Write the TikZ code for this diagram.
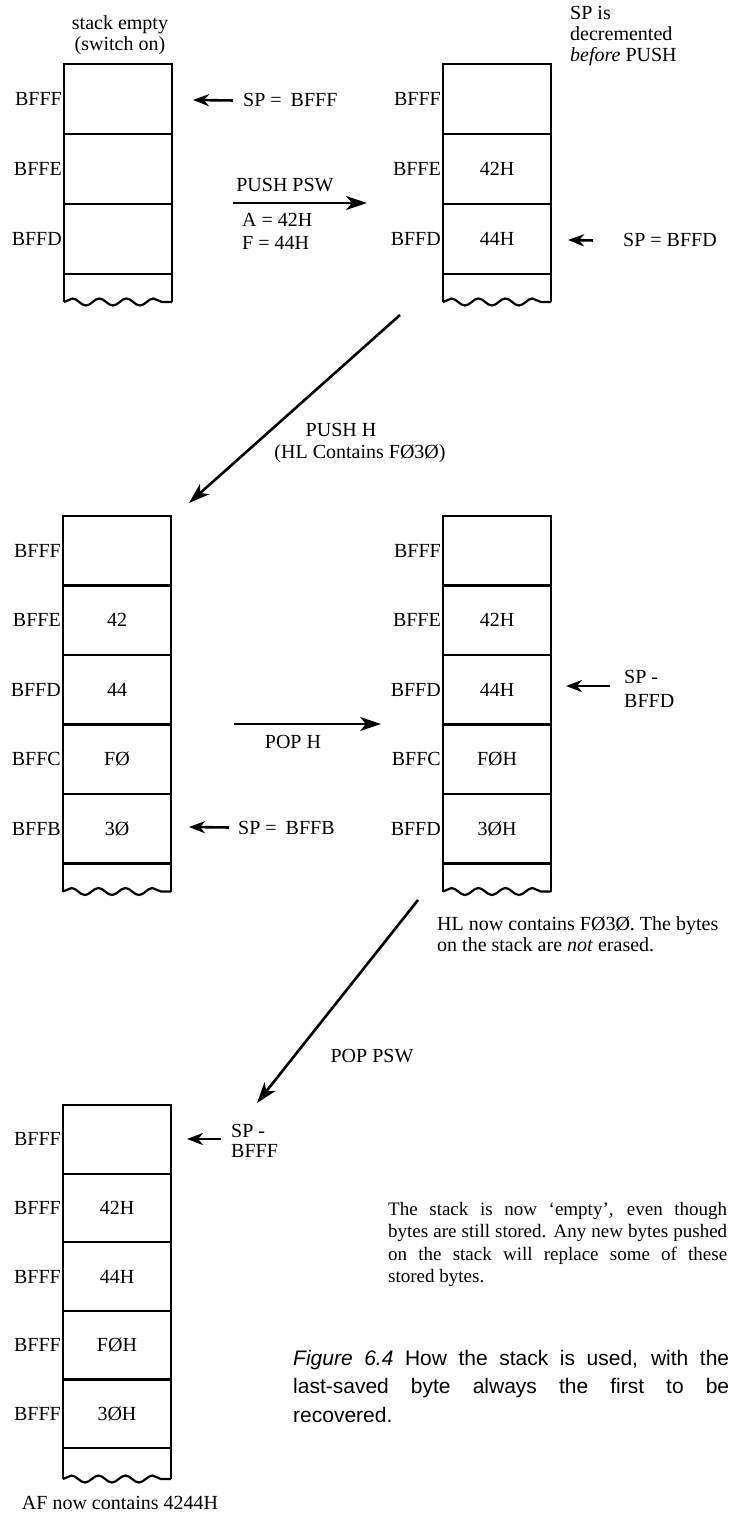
\documentclass[tikz,border=0pt]{standalone}
\usepackage{fontspec}
\setmainfont{Liberation Serif}
\setsansfont{Liberation Sans}
\usetikzlibrary{arrows.meta,decorations.pathmorphing}
\newcommand\lf{\fontsize{20}{22}\selectfont}
\newcommand\buildstack[5]{%
  \foreach [count=\i] \lab/\con in {#5} {
    \node[cell, minimum height=#4pt] (#1\i) at (#2, {#3+#4*(\i-0.5)}) {\con};
    \node[addr] (#1L\i) at (#1\i.west) {\lab};
  }%
}
\newcommand\stacktail[3]{%
  \draw[boxline] (#1#2.south west) -- ++(0,#3) coordinate (#1tl);
  \draw[boxline] (#1#2.south east) -- ++(0,#3) coordinate (#1tr);
  \draw[boxline, decorate, decoration={snake, amplitude=3.5pt, segment length=27pt}] (#1tl) -- (#1tr);
}
\begin{document}
\begin{tikzpicture}[x=1pt,y=-1pt,
  cell/.style={draw, line width=2.2pt, minimum width=108pt, inner sep=0pt, outer sep=0pt, font=\lf},
  addr/.style={anchor=east, inner sep=2pt, font=\lf},
  lab/.style={inner sep=0pt, font=\lf},
  boxline/.style={line width=2.2pt},
  bigarrow/.style={line width=2.6pt, -{Stealth[length=21pt,width=14pt,inset=6pt]}},
  sparrow/.style={line width=2.6pt, -{Stealth[length=16pt,width=12pt,inset=5pt]}}]
\useasboundingbox (0,0) rectangle (733,1514);
\clip (0,0) rectangle (733,1514);

% stacks
\buildstack{A}{118}{64}{70}{BFFF/{},BFFE/{},BFFD/{}}
\stacktail{A}{3}{28}
\buildstack{B}{497}{64}{70}{BFFF/{},BFFE/42H,BFFD/44H}
\stacktail{B}{3}{28}
\buildstack{C}{117}{516}{69.5}{BFFF/{},BFFE/42,BFFD/44,BFFC/FØ,BFFB/3Ø}
\stacktail{C}{5}{28}
\buildstack{D}{497}{516}{69.5}{BFFF/{},BFFE/42H,BFFD/44H,BFFC/FØH,BFFD/3ØH}
\stacktail{D}{5}{28}
\buildstack{E}{117}{1105}{68.6}{BFFF/{},BFFF/42H,BFFF/44H,BFFF/FØH,BFFF/3ØH}
\stacktail{E}{5}{31}

% top texts
\node[lab, anchor=base] (se1) at (120,30) {stack empty};
\node[lab, anchor=base] (se2) at (120,51) {(switch on)};
\node[lab, anchor=base west] (spis1) at (570,20) {SP is};
\node[lab, anchor=base west] (spis2) at (570,41) {decremented};
\node[lab, anchor=base west] (spis3) at (570,62) {\textit{before} PUSH};

% SP pointer A
\node[lab, anchor=base west] (spA) at (243,107) {SP =\hspace{9pt}BFFF};
\coordinate (spAt) at (193,100);
\draw[sparrow] ([xshift=-10pt]spA.west) -- (spAt);

% PUSH PSW
\node[lab, anchor=base] (pp) at (285,192) {PUSH PSW};
\node[lab, anchor=base west] (pa) at (242,227) {A = 42H};
\node[lab, anchor=base west] (pf) at (242,250) {F = 44H};
\coordinate (pp1) at (233,203);
\coordinate (pp2) at (367,203);
\draw[bigarrow] (pp1) -- (pp2);

% SP pointer B
\node[lab, anchor=base west] (spB) at (623,247) {SP = BFFD};
\coordinate (spBt) at (568,240);
\draw[sparrow] ([xshift=-30pt]spB.west) -- (spBt);

% PUSH H
\coordinate (ph1) at (400,315);
\coordinate (ph2) at (189,503);
\draw[bigarrow] (ph1) -- (ph2);
\node[lab, anchor=base] (phl1) at (341,436) {PUSH H};
\node[lab, anchor=base] (phl2) at (360,458) {(HL Contains FØ3Ø)};

% POP H
\coordinate (po1) at (234,724);
\coordinate (po2) at (381,724);
\draw[bigarrow] (po1) -- (po2);
\node[lab, anchor=base] (pol) at (293,748) {POP H};

% SP pointer C
\node[lab, anchor=base west] (spC) at (238,834) {SP =\hspace{9pt}BFFB};
\coordinate (spCt) at (189,827);
\draw[sparrow] ([xshift=-9pt]spC.west) -- (spCt);

% SP pointer D
\node[lab, anchor=base west] (spD1) at (624,683) {SP -};
\node[lab, anchor=base west] (spD2) at (624,707) {BFFD};
\coordinate (spDs) at (610,686);
\coordinate (spDt) at (566,686);
\draw[sparrow] (spDs) -- (spDt);

% HL text
\node[lab, anchor=base west] (hl1) at (437,930) {HL now contains FØ3Ø. The bytes};
\node[lab, anchor=base west] (hl2) at (437,951) {on the stack are \textit{not} erased.};

% POP PSW
\coordinate (pw1) at (418,900);
\coordinate (pw2) at (257,1103);
\draw[bigarrow] (pw1) -- (pw2);
\node[lab, anchor=base] (pwl) at (372,1062) {POP PSW};

% SP pointer E
\node[lab, anchor=base west] (spE1) at (231,1137) {SP -};
\node[lab, anchor=base west] (spE2) at (231,1157) {BFFF};
\coordinate (spEs) at (221,1139);
\coordinate (spEt) at (187,1139);
\draw[sparrow] (spEs) -- (spEt);

% note
\node[inner sep=0pt, anchor=base west, text width=339pt, align=justify,
      font=\fontsize{19}{22.5}\selectfont] (note) at (388,1215)
  {The stack is now ‘empty’, even though\linebreak bytes are still stored. Any new bytes pushed\linebreak on the stack will replace some of these\linebreak stored bytes.};

% caption
\node[inner sep=0pt, anchor=base west, text width=436pt, align=justify,
      font=\sffamily\fontsize{21}{28.5}\selectfont] (cap) at (293,1365)
  {\textit{Figure 6.4} How the stack is used, with the\linebreak last-saved byte always the first to be\linebreak recovered.};

% bottom
\node[lab, anchor=base] (af) at (120,1509) {AF now contains 4244H};
\end{tikzpicture}
\end{document}
